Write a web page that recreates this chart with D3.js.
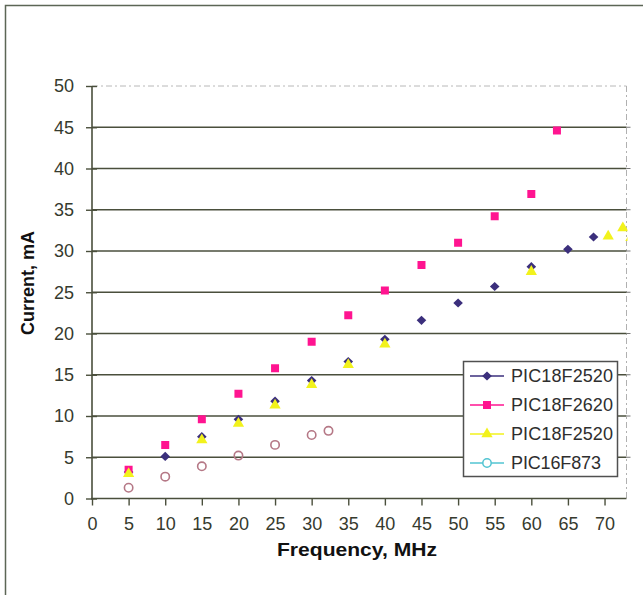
<!DOCTYPE html>
<html>
<head>
<meta charset="utf-8">
<script src="https://cdn.jsdelivr.net/npm/d3@7"></script>
<style>
  html, body { margin: 0; padding: 0; background: #fff; }
  svg { display: block; font-family: "Liberation Sans", Arial, sans-serif; }
</style>
</head>
<body>
<svg id="chart" width="643" height="595"></svg>
<script>
// Supply current versus oscillator frequency for several PIC devices
const xTicks = [0, 5, 10, 15, 20, 25, 30, 35, 40, 45, 50, 55, 60, 65, 70];
const yTicks = [0, 5, 10, 15, 20, 25, 30, 35, 40, 45, 50];

const freq18F2520a = [5, 10, 15, 20, 25, 30, 35, 40, 45, 50, 55, 60, 65, 68.5];
const curr18F2520a = [3.2, 5.1, 7.5, 9.6, 11.8, 14.3, 16.6, 19.3, 21.6, 23.7, 25.7, 28.1, 30.2, 31.7];

const freq18F2620 = [5, 10, 15, 20, 25, 30, 35, 40, 45, 50, 55, 60, 63.5];
const curr18F2620 = [3.5, 6.5, 9.6, 12.7, 15.8, 19.0, 22.2, 25.2, 28.3, 31.0, 34.2, 36.9, 44.6];

const freq18F2520b = [5, 15, 20, 25, 30, 35, 40, 60, 70.5, 72.5, 73.6];
const curr18F2520b = [3.0, 7.1, 9.1, 11.3, 13.8, 16.2, 18.7, 27.5, 31.8, 32.8, 31.6];

const freq16F873 = [5, 10, 15, 20, 25, 30, 32.3];
const curr16F873 = [1.3, 2.65, 3.9, 5.2, 6.5, 7.7, 8.2];

const seriesNames = ["PIC18F2520", "PIC18F2620", "PIC18F2520", "PIC16F873"];

const svg = d3.select("#chart");
const L = 92, R = 626.5, T = 86, B = 498.5;

const x = d3.scaleLinear().domain([0, 73]).range([L, R]);
const y = d3.scaleLinear().domain([0, 50]).range([B, T]);

const gridCol = "#4a4f3c";
const textCol = "#363a2e";

// outer frame (top and left edges)
svg.append("path")
  .attr("d", `M5.5,595 V5.5 H643`)
  .attr("fill", "none").attr("stroke", "#5c6656").attr("stroke-width", 1.5);

// plot area border: top and right are light and dotted
svg.append("line").attr("x1", L).attr("x2", R).attr("y1", T).attr("y2", T)
  .attr("stroke", "#b8b8b8").attr("stroke-width", 1).attr("stroke-dasharray", "6,3,2,3");
svg.append("line").attr("x1", R).attr("x2", R).attr("y1", T).attr("y2", B)
  .attr("stroke", "#b0b0b0").attr("stroke-width", 1).attr("stroke-dasharray", "6,3,2,3");

// horizontal gridlines
svg.append("g").selectAll("line")
  .data(yTicks.filter(v => v > 0 && v < 50))
  .join("line")
  .attr("x1", L).attr("x2", R)
  .attr("y1", d => y(d)).attr("y2", d => y(d))
  .attr("stroke", gridCol).attr("stroke-width", 1.7);

// small marks on the right border
svg.append("g").selectAll("line")
  .data(yTicks.filter(v => v > 0 && v < 50))
  .join("line")
  .attr("x1", R).attr("x2", R + 4)
  .attr("y1", d => y(d)).attr("y2", d => y(d))
  .attr("stroke", "#777").attr("stroke-width", 1);

// y axis (cross ticks)
const yAxis = svg.append("g").attr("transform", `translate(${L},0)`)
  .call(d3.axisLeft(y).tickValues(yTicks).tickSize(6).tickPadding(12));
yAxis.select(".domain").remove();
yAxis.selectAll(".tick line").attr("x2", -6).attr("x1", 5).attr("stroke", gridCol).attr("stroke-width", 1.4);
yAxis.selectAll("text").attr("font-size", 18).attr("fill", textCol)
  .attr("font-family", "Liberation Sans, Arial, sans-serif");
svg.append("line").attr("x1", L).attr("x2", L).attr("y1", T).attr("y2", B + 1)
  .attr("stroke", gridCol).attr("stroke-width", 1.6);

// x axis
const xAxis = svg.append("g").attr("transform", `translate(0,${B})`)
  .call(d3.axisBottom(x).tickValues(xTicks).tickSize(7).tickPadding(12));
xAxis.select(".domain").remove();
xAxis.selectAll(".tick line").attr("stroke", gridCol).attr("stroke-width", 1.4);
xAxis.selectAll("text").attr("font-size", 18).attr("fill", textCol)
  .attr("font-family", "Liberation Sans, Arial, sans-serif");
svg.append("line").attr("x1", L - 1).attr("x2", R).attr("y1", B).attr("y2", B)
  .attr("stroke", gridCol).attr("stroke-width", 1.6);

// axis titles
svg.append("text")
  .attr("transform", `translate(34,283) rotate(-90)`)
  .attr("text-anchor", "middle")
  .attr("font-size", 18).attr("font-weight", "bold").attr("fill", "#111")
  .text("Current, mA");
svg.append("text")
  .attr("x", 357).attr("y", 556)
  .attr("text-anchor", "middle")
  .attr("font-size", 19).attr("font-weight", "bold").attr("fill", "#111")
  .attr("textLength", 160).attr("lengthAdjust", "spacingAndGlyphs")
  .text("Frequency, MHz");

// markers
svg.append("clipPath").attr("id", "plotClip")
  .append("rect").attr("x", L - 10).attr("y", T - 10)
  .attr("width", R - L + 11).attr("height", B - T + 20);

const plot = svg.append("g").attr("clip-path", "url(#plotClip)");

const colDiamond = "#3b2f7c";
const colSquare = "#ff1490";
const colTri = "#f2f21c";
const colCircle = "#b57886";

// squat diamond, equal width and height
const diamond = () => "M0,-4.6L4.8,0L0,4.6L-4.8,0Z";
const square = d3.symbol().type(d3.symbolSquare).size(64);
const triangle = d3.symbol().type(d3.symbolTriangle).size(55);

const zip = (xs, ys) => xs.map((v, i) => [v, ys[i]]);

plot.append("g").selectAll("path")
  .data(zip(freq18F2520a, curr18F2520a))
  .join("path")
  .attr("d", diamond)
  .attr("transform", d => `translate(${x(d[0])},${y(d[1])})`)
  .attr("fill", colDiamond);

plot.append("g").selectAll("path")
  .data(zip(freq18F2620, curr18F2620))
  .join("path")
  .attr("d", square)
  .attr("transform", d => `translate(${x(d[0])},${y(d[1])})`)
  .attr("fill", colSquare);

plot.append("g").selectAll("path")
  .data(zip(freq18F2520b, curr18F2520b))
  .join("path")
  .attr("d", triangle)
  .attr("transform", d => `translate(${x(d[0])},${y(d[1])})`)
  .attr("fill", colTri);

plot.append("g").selectAll("circle")
  .data(zip(freq16F873, curr16F873))
  .join("circle")
  .attr("cx", d => x(d[0])).attr("cy", d => y(d[1]))
  .attr("r", 4.2)
  .attr("fill", "none").attr("stroke", colCircle).attr("stroke-width", 1.6);

// legend
const leg = svg.append("g");
leg.append("rect")
  .attr("x", 463.5).attr("y", 361.5).attr("width", 154).attr("height", 115)
  .attr("fill", "#fff").attr("stroke", "#505050").attr("stroke-width", 1.5);

const legendItems = [
  { name: seriesNames[0], color: colDiamond, kind: "diamond" },
  { name: seriesNames[1], color: colSquare, kind: "square" },
  { name: seriesNames[2], color: colTri, kind: "triangle" },
  { name: seriesNames[3], color: "#52c4d2", kind: "circle" }
];

const legRow = leg.selectAll("g.item").data(legendItems).join("g")
  .attr("class", "item")
  .attr("transform", (d, i) => `translate(0,${376 + i * 29})`);

legRow.append("line")
  .attr("x1", 470).attr("x2", 504).attr("y1", 0).attr("y2", 0)
  .attr("stroke", d => d.color).attr("stroke-width", 1.5);

legRow.each(function (d) {
  const g = d3.select(this);
  if (d.kind === "circle") {
    g.append("circle").attr("cx", 487).attr("cy", 0).attr("r", 4.2)
      .attr("fill", "#fff").attr("stroke", d.color).attr("stroke-width", 1.5);
  } else {
    const sym = d.kind === "diamond" ? diamond : d.kind === "square" ? square : triangle;
    g.append("path").attr("d", sym).attr("transform", "translate(487,0)").attr("fill", d.color);
  }
});

legRow.append("text")
  .attr("x", 511).attr("y", 0).attr("dy", "0.35em")
  .attr("font-size", 18).attr("fill", "#2e2e2e")
  .attr("textLength", 102).attr("lengthAdjust", "spacing")
  .text(d => d.name);
legRow.filter((d, i) => i === 3).select("text").attr("textLength", 90);
</script>
</body>
</html>
